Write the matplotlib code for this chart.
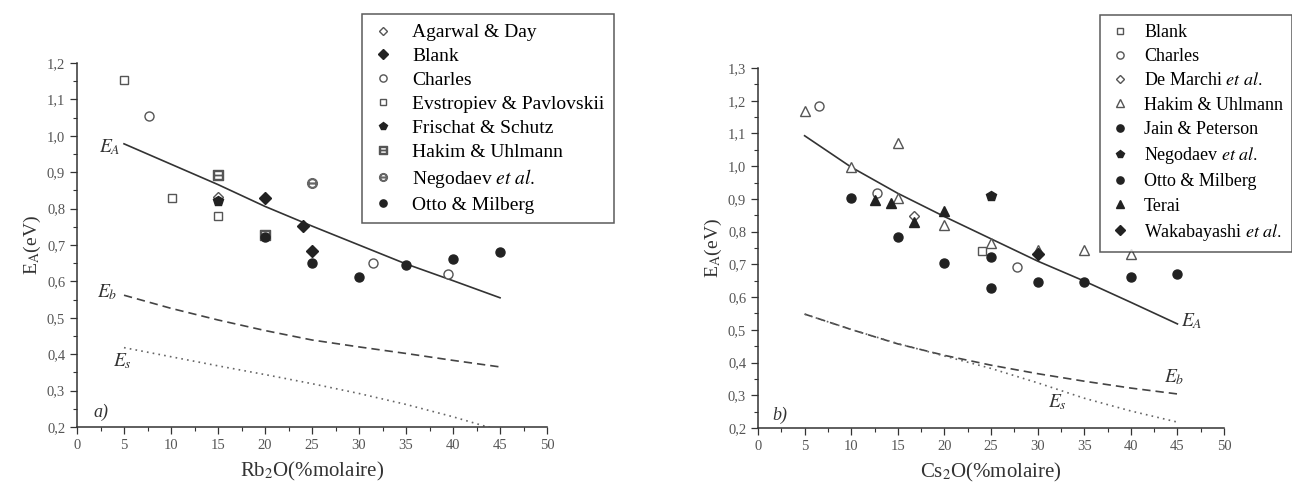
import numpy as np
import matplotlib
matplotlib.use('Agg')
import matplotlib.pyplot as plt
from matplotlib.ticker import MultipleLocator, FuncFormatter

plt.rcParams.update({'font.family': 'Liberation Serif', 'mathtext.fontset': 'stix',
                     'font.size': 9})

# ---------------- panel a) Rb2O ----------------
a_agarwal_x = [15]; a_agarwal_y = [0.832]
a_blank_x = [20, 24, 25]; a_blank_y = [0.829, 0.752, 0.683]
a_charles_x = [7.7, 31.5, 39.5]; a_charles_y = [1.055, 0.650, 0.620]
a_evstr_x = [5, 10.1, 15]; a_evstr_y = [1.154, 0.828, 0.780]
a_frisch_x = [15]; a_frisch_y = [0.820]
a_hakim_x = [15, 20]; a_hakim_y = [0.893, 0.728]
a_negod_x = [25]; a_negod_y = [0.869]
a_otto_x = [20, 25, 30, 35, 40, 45]; a_otto_y = [0.721, 0.650, 0.611, 0.645, 0.661, 0.680]

a_fit_x = [5, 10, 15, 20, 25, 30, 35, 40, 45]
a_EA = [0.978, 0.922, 0.866, 0.806, 0.752, 0.700, 0.648, 0.602, 0.555]
a_Eb = [0.562, 0.526, 0.494, 0.465, 0.439, 0.420, 0.402, 0.383, 0.365]
a_Es = [0.418, 0.393, 0.368, 0.344, 0.319, 0.292, 0.262, 0.228, 0.190]

# ---------------- panel b) Cs2O ----------------
b_blank_x = [24]; b_blank_y = [0.740]
b_charles_x = [6.5, 12.8, 27.8]; b_charles_y = [1.183, 0.919, 0.692]
b_demarchi_x = [16.7]; b_demarchi_y = [0.849]
b_hakim_x = [5, 10, 15, 15, 20, 25, 30, 35, 40]
b_hakim_y = [1.169, 0.997, 1.070, 0.904, 0.821, 0.765, 0.745, 0.745, 0.733]
b_jain_x = [10, 15, 20, 25]; b_jain_y = [0.904, 0.783, 0.703, 0.628]
b_negod_x = [25]; b_negod_y = [0.910]
b_otto_x = [25, 30, 35, 40, 45]; b_otto_y = [0.722, 0.646, 0.646, 0.661, 0.671]
b_terai_x = [12.5, 14.3, 16.7, 20]; b_terai_y = [0.896, 0.888, 0.828, 0.863]
b_waka_x = [30]; b_waka_y = [0.733]

b_fit_x = [5, 10, 15, 20, 25, 30, 35, 40, 45]
b_EA = [1.093, 0.997, 0.917, 0.846, 0.778, 0.710, 0.649, 0.584, 0.518]
b_Eb = [0.548, 0.501, 0.457, 0.422, 0.392, 0.366, 0.343, 0.322, 0.304]
b_Es = [0.548, 0.501, 0.458, 0.420, 0.382, 0.338, 0.291, 0.252, 0.218]


def comma(v, pos):
    return f'{v:.1f}'.replace('.', ',')


def style_axes(ax, ymin, ymax):
    ax.set_xlim(0, 50)
    ax.set_ylim(ymin, ymax)
    ax.spines['top'].set_visible(False)
    ax.spines['right'].set_visible(False)
    ax.xaxis.set_major_locator(MultipleLocator(5))
    ax.xaxis.set_minor_locator(MultipleLocator(2.5))
    ax.yaxis.set_major_locator(MultipleLocator(0.1))
    ax.yaxis.set_minor_locator(MultipleLocator(0.05))
    ax.yaxis.set_major_formatter(FuncFormatter(comma))
    ax.tick_params(which='major', direction='out', length=5, width=0.9, labelsize=10.5,
                   colors='#333333', labelcolor='#555555')
    ax.tick_params(which='minor', direction='out', length=3, width=0.8, colors='#333333')
    for s in ('left', 'bottom'):
        ax.spines[s].set_linewidth(1.1)
        ax.spines[s].set_color('#333333')
    ax.set_ylabel(r'E$_\mathrm{A}$(eV)', fontsize=14, color='#333333', labelpad=3)


fig = plt.figure(figsize=(12.92, 4.84), dpi=100)
ax1 = fig.add_axes([0.0596, 0.1178, 0.3638, 0.752])
ax2 = fig.add_axes([0.5867, 0.1157, 0.3607, 0.7438])

ms = 5.5
k = '#222222'
op = dict(mfc='white', mec='#555555', mew=1.0, ls='none', ms=ms)
fl = dict(color=k, ls='none', ms=ms)
legkw = dict(loc='upper left', frameon=True, fancybox=False, edgecolor='#333333',
             handlelength=1.2, borderpad=0.5, borderaxespad=0, markerscale=0.8)

# --- a)
ax1.plot(a_fit_x, a_EA, color='#333333', lw=1.2)
ax1.plot(a_fit_x, a_Eb, color='#444444', lw=1.2, ls=(0, (5, 3)))
ax1.plot(a_fit_x, a_Es, color='#666666', lw=1.2, ls=(0, (1, 2.5)))
h = []
h += ax1.plot(a_agarwal_x, a_agarwal_y, marker='D', label='Agarwal & Day', **{**op, 'ms': 5})
h += ax1.plot(a_blank_x, a_blank_y, marker='D', label='Blank', **{**fl, 'ms': 6})
h += ax1.plot(a_charles_x, a_charles_y, marker='o', label='Charles', **{**op, 'ms': 6.5})
h += ax1.plot(a_evstr_x, a_evstr_y, marker='s', label='Evstropiev & Pavlovskii', **op)
h += ax1.plot(a_frisch_x, a_frisch_y, marker='p', label='Frischat & Schutz', **{**fl, 'ms': 7})
h += ax1.plot(a_hakim_x, a_hakim_y, marker='$\u229f$', label='Hakim & Uhlmann', color='#555555', ls='none', ms=7)
h += ax1.plot(a_negod_x, a_negod_y, marker='$\u2296$', label='Negodaev $et\\ al.$', color='#666666', ls='none', ms=7)
h += ax1.plot(a_otto_x, a_otto_y, marker='o', label='Otto & Milberg', **{**fl, 'ms': 6.5})
style_axes(ax1, 0.2, 1.2)
ax1.set_xlabel(r'Rb$_2$O(%molaire)', fontsize=15, color='#333333', labelpad=6)
it = dict(fontstyle='italic', fontsize=13, color='#333333')
ax1.text(3.5, 0.955, r'$E_A$', fontsize=14, color='#333333', ha='center')
ax1.text(3.2, 0.555, r'$E_b$', fontsize=14, color='#333333', ha='center')
ax1.text(4.8, 0.368, r'$E_s$', fontsize=14, color='#333333', ha='center')
ax1.text(1.8, 0.228, 'a)', **it)
leg1 = fig.legend(handles=h, bbox_to_anchor=(0.2802, 0.971), fontsize=14,
                  handletextpad=0.88, labelspacing=0.32, **legkw)
leg1.get_frame().set_linewidth(1.1)

# --- b)
ax2.plot(b_fit_x, b_EA, color='#333333', lw=1.2)
ax2.plot(b_fit_x, b_Eb, color='#444444', lw=1.2, ls=(0, (5, 3)))
ax2.plot(b_fit_x, b_Es, color='#666666', lw=1.2, ls=(0, (1, 2.5)))
g = []
g += ax2.plot(b_blank_x, b_blank_y, marker='s', label='Blank', **op)
g += ax2.plot(b_charles_x, b_charles_y, marker='o', label='Charles', **{**op, 'ms': 6.5})
g += ax2.plot(b_demarchi_x, b_demarchi_y, marker='D', label='De Marchi $et\\ al.$', **{**op, 'ms': 5})
g += ax2.plot(b_hakim_x, b_hakim_y, marker='^', label='Hakim & Uhlmann', **{**op, 'ms': 6.5})
g += ax2.plot(b_jain_x, b_jain_y, marker='o', label='Jain & Peterson', **{**fl, 'ms': 6.5})
g += ax2.plot(b_negod_x, b_negod_y, marker='p', label='Negodaev $et\\ al.$', **{**fl, 'ms': 7})
g += ax2.plot(b_otto_x, b_otto_y, marker='o', label='Otto & Milberg', **{**fl, 'ms': 6.5})
g += ax2.plot(b_terai_x, b_terai_y, marker='^', label='Terai', **{**fl, 'ms': 6.5})
g += ax2.plot(b_waka_x, b_waka_y, marker='D', label='Wakabayashi $et\\ al.$', **{**fl, 'ms': 6})
style_axes(ax2, 0.2, 1.3)
ax2.set_xlabel(r'Cs$_2$O(%molaire)', fontsize=15, color='#333333', labelpad=6)
ax2.text(46.5, 0.51, r'$E_A$', fontsize=14, color='#333333', ha='center')
ax2.text(44.6, 0.34, r'$E_b$', fontsize=14, color='#333333', ha='center')
ax2.text(32.1, 0.262, r'$E_s$', fontsize=14, color='#333333', ha='center')
ax2.text(1.5, 0.225, 'b)', **it)
leg2 = fig.legend(handles=g, bbox_to_anchor=(0.8514, 0.969), fontsize=13,
                  handletextpad=0.74, labelspacing=0.40, **legkw)
leg2.get_frame().set_linewidth(1.1)

fig.savefig('out.png', dpi=100)
